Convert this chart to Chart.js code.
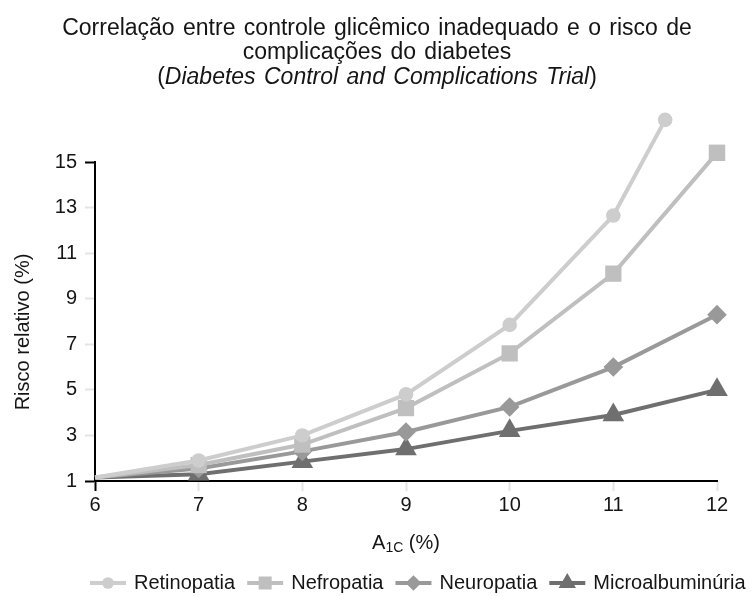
<!DOCTYPE html>
<html>
<head>
<meta charset="utf-8">
<script src="https://cdn.jsdelivr.net/npm/chart.js@4/dist/chart.umd.min.js"></script>
<style>
  html, body { margin: 0; padding: 0; background: #fff; }
  #wrap { width: 752px; height: 596px; }
</style>
</head>
<body>
<div id="wrap"><canvas id="c" width="752" height="596"></canvas></div>
<script>
// HbA1c (%) values and relative risk of each complication
const a1c = [6, 7, 8, 9, 10, 11, 12];
const retinopatiaX = [6, 7, 8, 9, 10, 11, 11.5];
const retinopatia = [1.15, 1.9, 3.0, 4.8, 7.85, 12.65, 16.85];
const nefropatia = [1.15, 1.7, 2.6, 4.2, 6.6, 10.1, 15.4];
const neuropatia = [1.15, 1.55, 2.3, 3.15, 4.25, 6.0, 8.3];
const microalbuminuria = [1.15, 1.3, 1.85, 2.4, 3.2, 3.9, 5.0];

const seriesNames = ['Retinopatia', 'Nefropatia', 'Neuropatia', 'Microalbuminúria'];
const yTicks = [1, 3, 5, 7, 9, 11, 13, 15];

const FONT = '"Liberation Sans", Arial, sans-serif';
const TEXT = '#151515';

const pts = (xs, ys) => ys.map((v, i) => ({ x: xs[i], y: v }));

const styles = [
  { color: '#cdcdcd', point: 'circle',   r: 7.3 },
  { color: '#bfbfbf', point: 'rect',     r: 11.5 },
  { color: '#999999', point: 'rectRot',  r: 9.8 },
  { color: '#6f6f6f', point: 'triangle', r: 12.5 }
];

const values = [
  pts(retinopatiaX, retinopatia),
  pts(a1c, nefropatia),
  pts(a1c, neuropatia),
  pts(a1c, microalbuminuria)
];

const datasets = values.map((data, i) => ({
  label: seriesNames[i],
  data,
  borderColor: styles[i].color,
  backgroundColor: styles[i].color,
  pointBackgroundColor: styles[i].color,
  pointBorderColor: styles[i].color,
  borderWidth: 4,
  pointBorderWidth: 0,
  pointStyle: styles[i].point,
  pointRadius: ctx => (ctx.raw && ctx.raw.x === 6 ? 0 : styles[i].r),
  tension: 0,
  clip: false
}));

// Markers whose value lies above the top tick are skipped by the default
// in-area test, so draw those elements here without an area limit.
const overflowPoints = {
  id: 'overflowPoints',
  afterDatasetsDraw(chart) {
    const area = chart.chartArea;
    chart.data.datasets.forEach((ds, i) => {
      chart.getDatasetMeta(i).data.forEach(el => {
        if (el.y < area.top) el.draw(chart.ctx);
      });
    });
  }
};

// Title, subscripted x-axis title, y-axis title and legend
const decorations = {
  id: 'decorations',
  afterDraw(chart) {
    const ctx = chart.ctx;
    const area = chart.chartArea;
    ctx.save();
    ctx.fillStyle = TEXT;
    ctx.textBaseline = 'middle';

    // Title
    const tSize = 23;
    ctx.font = `${tSize}px ${FONT}`;
    ctx.textAlign = 'center';
    ctx.wordSpacing = '2px';
    ctx.fillText('Correlação entre controle glicêmico inadequado e o risco de', 377, 29);
    ctx.fillText('complicações do diabetes', 377, 53);
    const parts = [
      { t: '(', f: `${tSize}px ${FONT}` },
      { t: 'Diabetes Control and Complications Trial', f: `italic ${tSize}px ${FONT}` },
      { t: ')', f: `${tSize}px ${FONT}` }
    ];
    let total = 0;
    parts.forEach(p => { ctx.font = p.f; p.w = ctx.measureText(p.t).width; total += p.w; });
    let x = 377 - total / 2;
    ctx.textAlign = 'left';
    parts.forEach(p => { ctx.font = p.f; ctx.fillText(p.t, x, 78); x += p.w; });
    ctx.wordSpacing = '0px';

    // X-axis title: A1C (%)
    const xs = [
      { t: 'A', f: `20px ${FONT}`, dy: 0 },
      { t: '1C', f: `14px ${FONT}`, dy: 5 },
      { t: ' (%)', f: `20px ${FONT}`, dy: 0 }
    ];
    total = 0;
    xs.forEach(p => { ctx.font = p.f; p.w = ctx.measureText(p.t).width; total += p.w; });
    x = (area.left + area.right) / 2 - total / 2;
    xs.forEach(p => { ctx.font = p.f; ctx.fillText(p.t, x, 543 + p.dy); x += p.w; });

    // Y-axis title
    ctx.save();
    ctx.translate(23, 332);
    ctx.rotate(-Math.PI / 2);
    ctx.textAlign = 'center';
    ctx.font = `20px ${FONT}`;
    ctx.fillText('Risco relativo (%)', 0, 0);
    ctx.restore();

    // Legend
    ctx.font = `20px ${FONT}`;
    ctx.textAlign = 'left';
    let lx = 90;
    const ly = 583;
    chart.data.datasets.forEach((ds, i) => {
      const s = styles[i];
      ctx.strokeStyle = s.color;
      ctx.lineWidth = 4;
      ctx.beginPath();
      ctx.moveTo(lx, ly);
      ctx.lineTo(lx + 36, ly);
      ctx.stroke();
      ctx.fillStyle = s.color;
      Chart.helpers.drawPoint(ctx, {
        pointStyle: s.point, radius: s.r * 0.8, rotation: 0, borderWidth: 0
      }, lx + 18, ly);
      ctx.fillStyle = TEXT;
      lx += 36 + 8;
      ctx.fillText(ds.label, lx, ly);
      lx += ctx.measureText(ds.label).width + 12;
    });
    ctx.restore();
  }
};

const tickColorY = c => (c.tick && (c.tick.value === 15 || c.tick.value === 1) ? '#000' : '#e4e4e4');
const tickColorX = c => (c.tick && c.tick.value === 6 ? '#000' : '#e4e4e4');

new Chart(document.getElementById('c'), {
  type: 'line',
  data: { datasets },
  plugins: [overflowPoints, decorations],
  options: {
    responsive: false,
    animation: false,
    devicePixelRatio: 1,
    layout: { padding: { top: 162, left: 0, right: 35, bottom: 0 } },
    plugins: { legend: { display: false }, title: { display: false }, tooltip: { enabled: false } },
    scales: {
      x: {
        type: 'linear',
        min: 6,
        max: 12,
        afterFit: s => { s.height = 115; },
        ticks: { stepSize: 1, color: TEXT, font: { family: FONT, size: 20 }, padding: 2 },
        grid: { drawOnChartArea: false, drawTicks: true, tickLength: 10, tickColor: tickColorX, tickWidth: 2 },
        border: { color: '#000', width: 2 }
      },
      y: {
        min: 1,
        max: 15,
        afterFit: s => { s.width = 95; },
        afterBuildTicks: s => { s.ticks = yTicks.map(v => ({ value: v })); },
        ticks: { color: TEXT, font: { family: FONT, size: 20 }, padding: 8 },
        grid: { drawOnChartArea: false, drawTicks: true, tickLength: 10, tickColor: tickColorY, tickWidth: 2 },
        border: { color: '#000', width: 2 }
      }
    }
  }
});
</script>
</body>
</html>
